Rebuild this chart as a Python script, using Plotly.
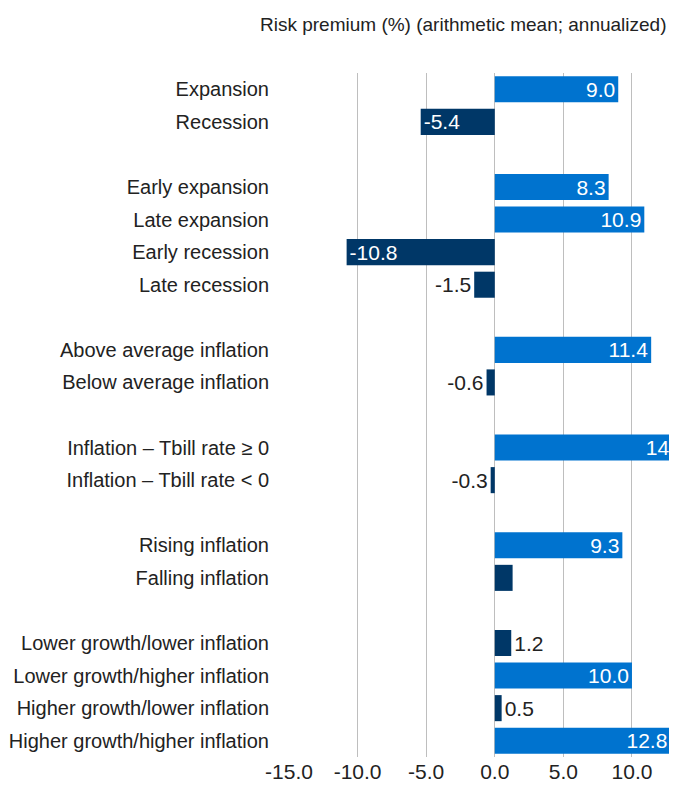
import plotly.graph_objects as go

# categories in display order; None marks an empty spacer row between groups
categories = [
    "Expansion", "Recession", None,
    "Early expansion", "Late expansion", "Early recession", "Late recession", None,
    "Above average inflation", "Below average inflation", None,
    "Inflation \u2013 Tbill rate \u2265 0", "Inflation \u2013 Tbill rate < 0", None,
    "Rising inflation", "Falling inflation", None,
    "Lower growth/lower inflation", "Lower growth/higher inflation",
    "Higher growth/lower inflation", "Higher growth/higher inflation",
]
values = [
    9.0, -5.4, None,
    8.3, 10.9, -10.8, -1.5, None,
    11.4, -0.6, None,
    14.2, -0.3, None,
    9.3, 1.3, None,
    1.2, 10.0, 0.5, 12.8,
]
# "light" = favourable regime, "dark" = unfavourable regime
shade = [
    "light", "dark", None,
    "light", "light", "dark", "dark", None,
    "light", "dark", None,
    "light", "dark", None,
    "light", "dark", None,
    "dark", "light", "dark", "light",
]
hidden_labels = ["Falling inflation"]
x_ticks = [-15, -10, -5, 0, 5, 10]

LIGHT = "#0073CF"
DARK = "#003767"
FONT = "Liberation Sans, Arial, sans-serif"

ys, xs, cols, texts, tpos = [], [], [], [], []
for i, (cat, v, s) in enumerate(zip(categories, values, shade)):
    if cat is None:
        continue
    ys.append(i)
    xs.append(v)
    cols.append(LIGHT if s == "light" else DARK)
    texts.append("" if cat in hidden_labels else f"{v:.1f}")
    tpos.append("inside" if abs(v) >= 3 else "outside")

fig = go.Figure(go.Bar(
    x=xs, y=ys, orientation="h",
    marker=dict(color=cols, line=dict(width=0)),
    width=0.8,
    text=texts, textposition=tpos, insidetextanchor="end",
    outsidetextfont=dict(family=FONT, size=21, color="#222222"),
    insidetextfont=dict(family=FONT, size=21, color="white"),
    constraintext="none",
    cliponaxis=True,
    showlegend=False,
))

tick_y = [i for i, c in enumerate(categories) if c is not None]
tick_t = [c for c in categories if c is not None]

# the page body has an 8px margin, so keep the figure inside the visible area
fig.update_layout(
    width=661, height=778,
    margin=dict(l=281, r=0, t=65, b=29),
    plot_bgcolor="white", paper_bgcolor="white",
    font=dict(family=FONT, size=19, color="#222222"),
    xaxis=dict(
        range=[-15, 12.7], tickvals=x_ticks,
        ticktext=[f"{t:.1f}" for t in x_ticks],
        showgrid=True, gridcolor="#BEBEBE", gridwidth=1,
        zeroline=True, zerolinecolor="#BEBEBE", zerolinewidth=1,
        showline=False, ticks="", tickfont=dict(size=21),
    ),
    yaxis=dict(
        range=[20.5, -0.5], tickvals=tick_y, ticktext=tick_t,
        showgrid=False, zeroline=False, showline=False, ticks="",
        ticklabelstandoff=19, tickfont=dict(size=20),
    ),
    annotations=[dict(
        text="Risk premium (%) (arithmetic mean; annualized)",
        xref="paper", yref="paper", x=1, y=1, xanchor="right", yanchor="bottom",
        yshift=36, showarrow=False, font=dict(size=19, color="#222222"),
    )],
)

fig.write_html("out.html")
